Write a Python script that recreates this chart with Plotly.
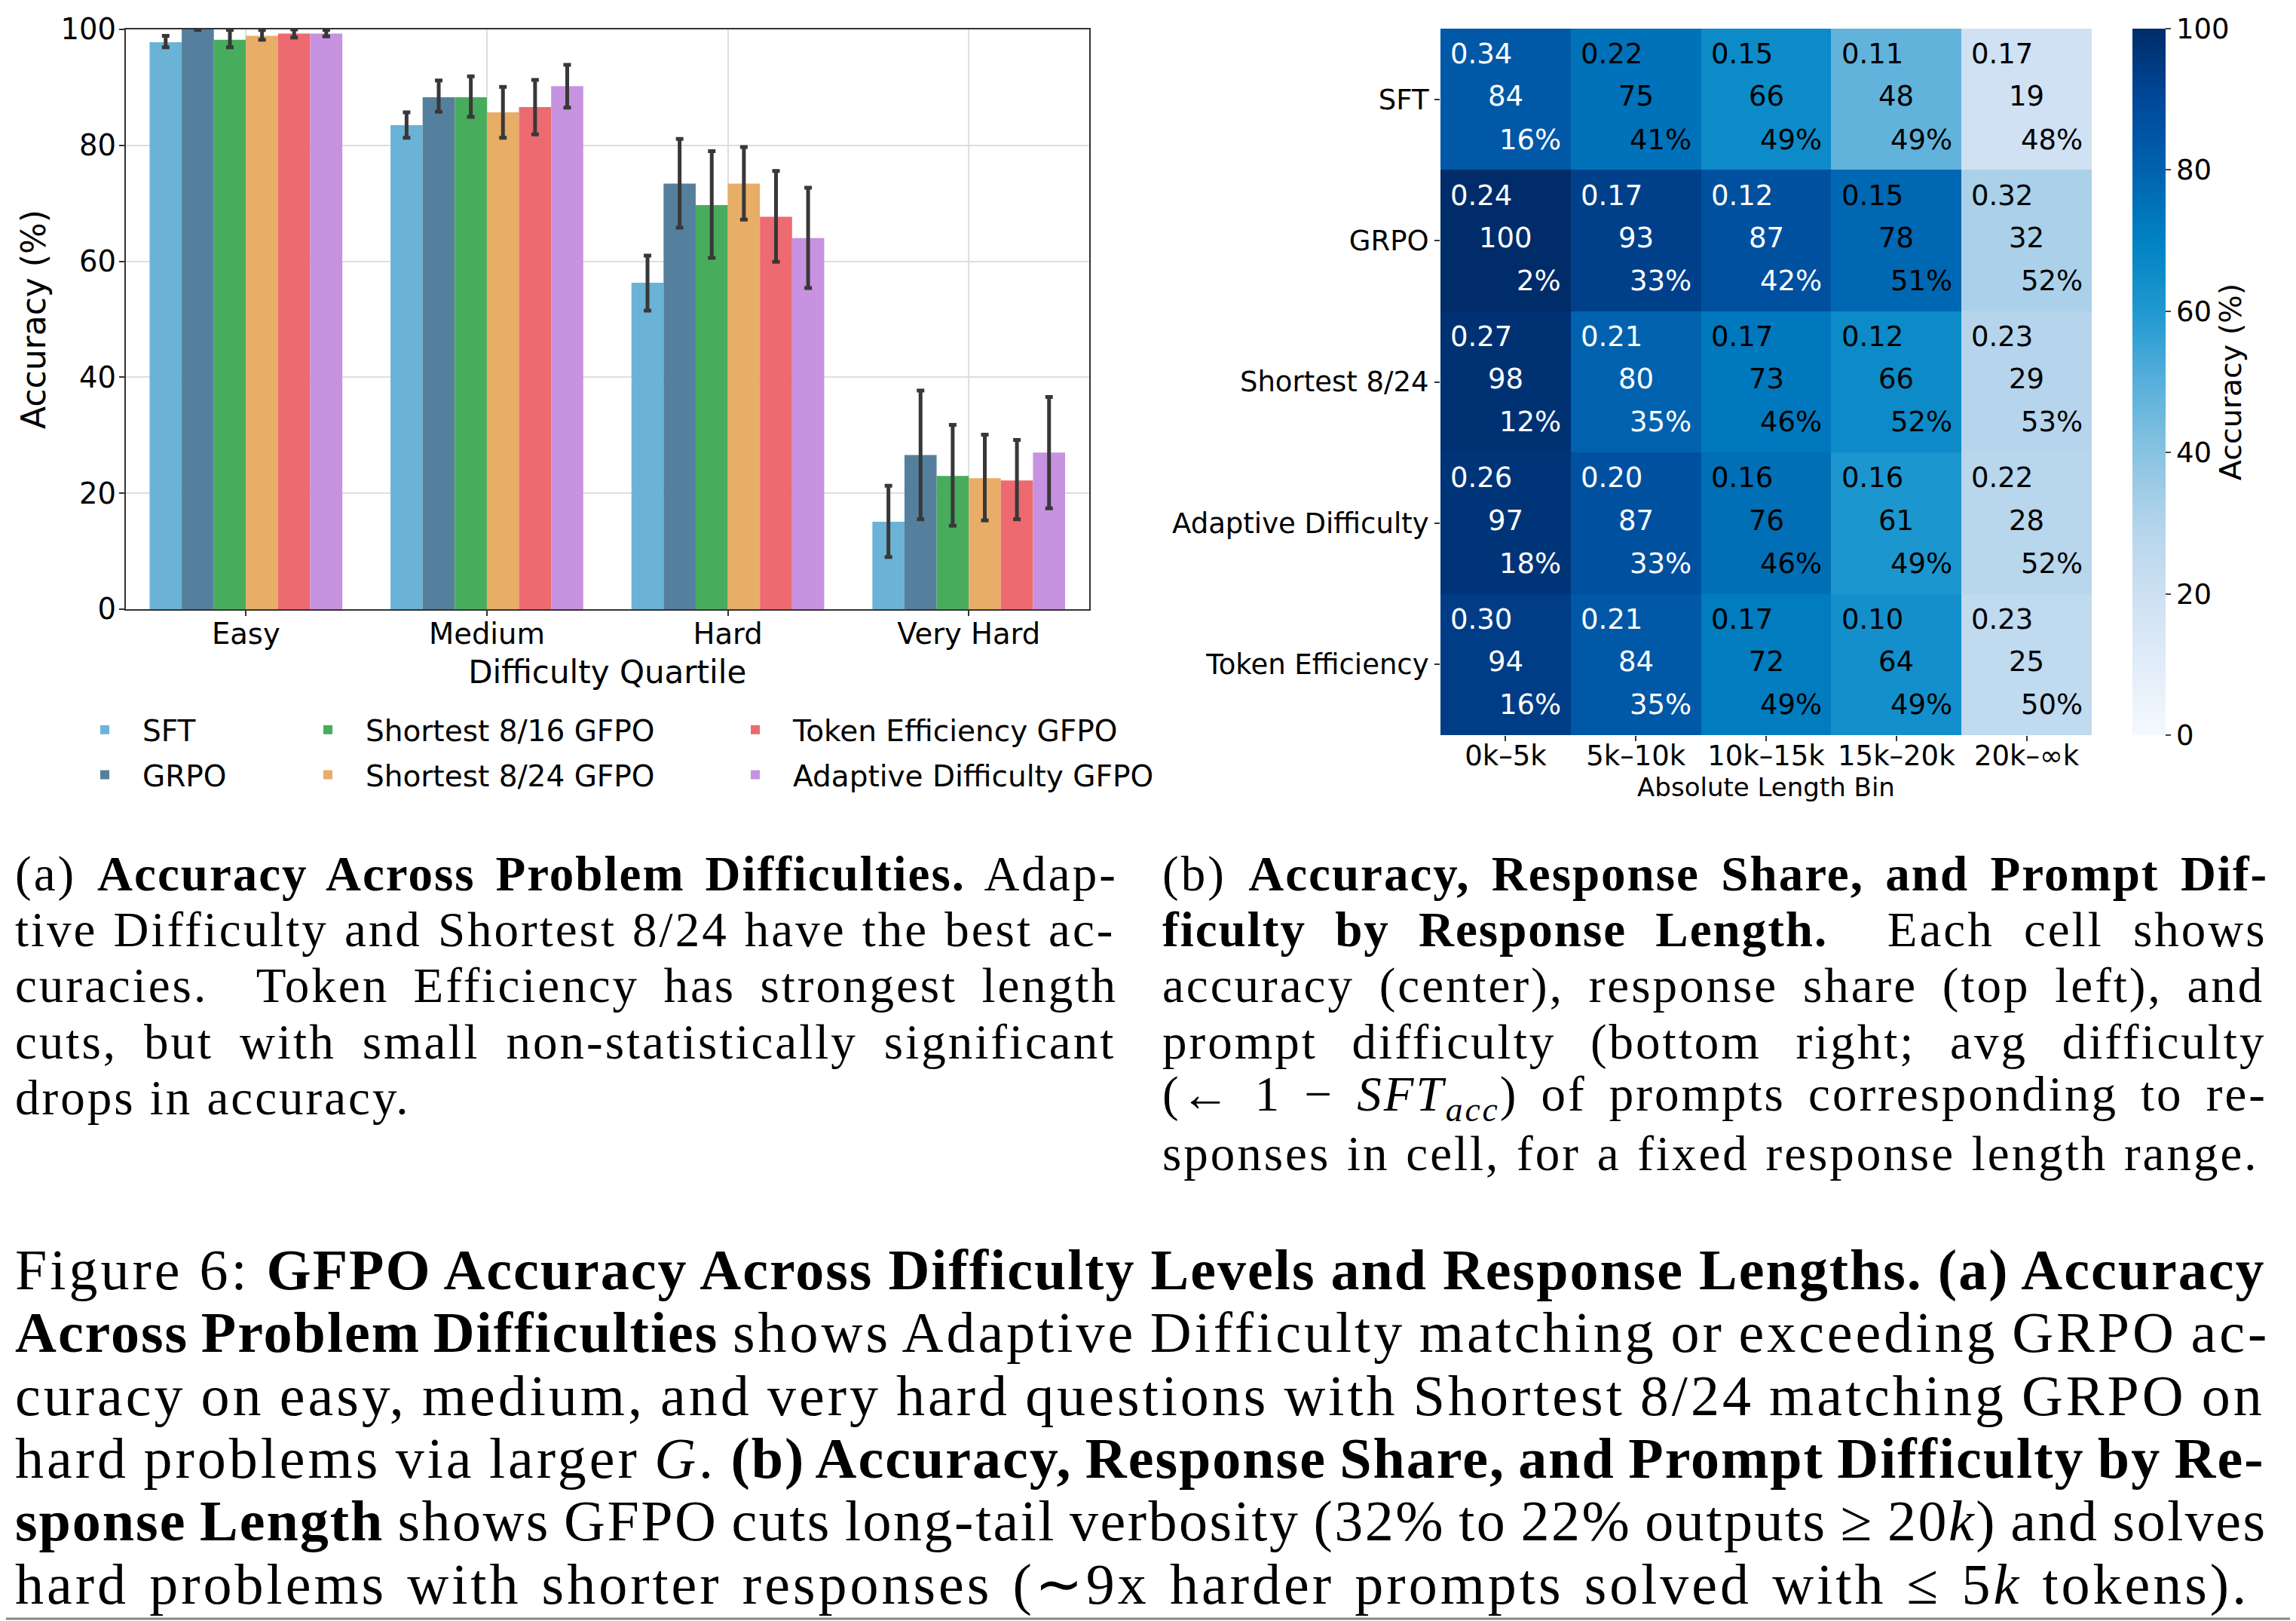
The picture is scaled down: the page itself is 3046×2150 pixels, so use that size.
import plotly.graph_objects as go

# ---------------- data: bar chart ----------------
difficulty = ["Easy", "Medium", "Hard", "Very Hard"]
methods = ["SFT", "GRPO", "Shortest 8/16 GFPO", "Shortest 8/24 GFPO",
           "Token Efficiency GFPO", "Adaptive Difficulty GFPO"]
acc_sft = [97.8, 83.5, 56.3, 15.1]
acc_grpo = [100.0, 88.3, 73.4, 26.6]
acc_s816 = [98.2, 88.3, 69.7, 23.0]
acc_s824 = [98.9, 85.7, 73.4, 22.6]
acc_tok = [99.3, 86.6, 67.7, 22.2]
acc_ada = [99.3, 90.2, 64.0, 27.0]
hi_sft = [98.9, 85.7, 61.0, 21.3]
lo_sft = [96.9, 81.3, 51.5, 9.0]
hi_grpo = [100.0, 91.2, 81.1, 37.7]
lo_grpo = [99.9, 85.8, 65.8, 15.5]
hi_s816 = [99.9, 91.9, 79.0, 31.8]
lo_s816 = [96.9, 84.9, 60.6, 14.4]
hi_s824 = [99.9, 90.1, 79.7, 30.1]
lo_s824 = [98.2, 81.3, 67.2, 15.3]
hi_tok = [100.0, 91.3, 75.6, 29.2]
lo_tok = [98.6, 81.9, 59.9, 15.5]
hi_ada = [99.9, 93.9, 72.7, 36.6]
lo_ada = [98.8, 86.5, 55.4, 17.4]

# ---------------- data: heatmap ----------------
hm_rows = ["SFT", "GRPO", "Shortest 8/24", "Adaptive Difficulty", "Token Efficiency"]
hm_cols = ["0k\u20135k", "5k\u201310k", "10k\u201315k", "15k\u201320k", "20k\u2013\u221ek"]
hm_acc_sft = [84, 75, 66, 48, 19]
hm_acc_grpo = [100, 93, 87, 78, 32]
hm_acc_s824 = [98, 80, 73, 66, 29]
hm_acc_ada = [97, 87, 76, 61, 28]
hm_acc_tok = [94, 84, 72, 64, 25]
share_sft = [0.34, 0.22, 0.15, 0.11, 0.17]
share_grpo = [0.24, 0.17, 0.12, 0.15, 0.32]
share_s824 = [0.27, 0.21, 0.17, 0.12, 0.23]
share_ada = [0.26, 0.20, 0.16, 0.16, 0.22]
share_tok = [0.30, 0.21, 0.17, 0.10, 0.23]
diff_sft = [16, 41, 49, 49, 48]
diff_grpo = [2, 33, 42, 51, 52]
diff_s824 = [12, 35, 46, 52, 53]
diff_ada = [18, 33, 46, 49, 52]
diff_tok = [16, 35, 49, 49, 50]

# ---------------- styles / page geometry ----------------
OFF = 8                      # default body margin of the html page
W, H = 3046 - OFF, 2150 - OFF
SANS = "DejaVu Sans"
SERIF = "Liberation Serif, Times New Roman, serif"
FS = 37
bar_colors = ["#6BB3D6", "#55809D", "#47AD5C", "#E8AD67", "#EC6A70", "#C792DF"]
blues = [[0.0, "#f5f9fe"], [0.1, "#e1ecf8"], [0.2, "#cde0f2"], [0.3, "#b3d4eb"],
         [0.4, "#88c3e1"], [0.5, "#58afdb"], [0.6, "#1f98d0"], [0.7, "#0082c3"],
         [0.8, "#0062ae"], [0.9, "#00489a"], [1.0, "#002c69"]]


def px_x(p):
    return (p - OFF) / W


def px_y(p):
    return 1 - (p - OFF) / H


fig = go.Figure()

means = [acc_sft, acc_grpo, acc_s816, acc_s824, acc_tok, acc_ada]
highs = [hi_sft, hi_grpo, hi_s816, hi_s824, hi_tok, hi_ada]
lows = [lo_sft, lo_grpo, lo_s816, lo_s824, lo_tok, lo_ada]
legend_of = ["legend", "legend", "legend2", "legend2", "legend3", "legend3"]
for name, m, h, l, c, lg in zip(methods, means, highs, lows, bar_colors, legend_of):
    fig.add_trace(go.Bar(
        x=difficulty, y=m, name=name, marker=dict(color=c, line=dict(width=0)),
        error_y=dict(type="data", symmetric=False,
                     array=[hh - mm for hh, mm in zip(h, m)],
                     arrayminus=[mm - ll for mm, ll in zip(m, l)],
                     color="#383838", thickness=5, width=5),
        xaxis="x", yaxis="y", legend=lg, legendgroup=name,
    ))

# heatmap
hm_acc = [hm_acc_sft, hm_acc_grpo, hm_acc_s824, hm_acc_ada, hm_acc_tok]
hm_share = [share_sft, share_grpo, share_s824, share_ada, share_tok]
hm_diff = [diff_sft, diff_grpo, diff_s824, diff_ada, diff_tok]
fig.add_trace(go.Heatmap(
    z=hm_acc, x=hm_cols, y=hm_rows, colorscale=blues, zmin=0, zmax=100,
    xaxis="x2", yaxis="y2", showscale=True, xgap=0, ygap=0,
    colorbar=dict(
        x=px_x(2829), xanchor="left", xref="paper", y=px_y(506.5), yanchor="middle",
        len=937, lenmode="pixels", thickness=44, outlinewidth=0, xpad=0, ypad=0,
        ticks="outside", ticklen=7, tickwidth=1.5, tickvals=[0, 20, 40, 60, 80, 100],
        tickfont=dict(family=SANS, size=FS, color="black"),
        title=dict(text="Accuracy (%)", side="right", font=dict(family=SANS, size=39.5, color="black")),
    ),
    hoverinfo="skip",
))

annotations = []
for r in range(len(hm_rows)):
    for c in range(len(hm_cols)):
        a = hm_acc[r][c]
        col = "white" if a >= 79 else "black"
        f = dict(family=SANS, size=FS, color=col)
        annotations.append(dict(x=c, y=r - 0.02, xref="x2", yref="y2", text=str(a), showarrow=False,
                                font=f, xanchor="center", yanchor="middle"))
        annotations.append(dict(x=c - 0.435, y=r - 0.32, xref="x2", yref="y2",
                                text=f"{hm_share[r][c]:.2f}", showarrow=False,
                                font=f, xanchor="left", yanchor="middle"))
        annotations.append(dict(x=c + 0.44, y=r + 0.285, xref="x2", yref="y2",
                                text=f"{hm_diff[r][c]}%", showarrow=False,
                                font=f, xanchor="right", yanchor="middle"))

# ---------------- captions ----------------
# each line: (segments, word-spacing px, letter-spacing override or None)
SUB_FS, FIG_FS = 65, 76
LS_SUB, LSB_SUB = 3.0, 2.0
LS_FIG, LSB_FIG = 4.0, 2.0

cap_a = [
    ([("(a) ", "r"), ("Accuracy Across Problem Difficulties.", "b"), (" Adap-", "r")], 8.7, None),
    ([("tive Difficulty and Shortest 8/24 have the best ac-", "r")], 1.9, None),
    ([("curacies.  Token Efficiency has strongest length", "r")], 13.1, None),
    ([("cuts, but with small non-statistically significant", "r")], 15.8, None),
    ([("drops in accuracy.", "r")], 0, None),
]
cap_b = [
    ([("(b) ", "r"), ("Accuracy, Response Share, and Prompt Dif-", "b")], 10.2, None),
    ([("ficulty by Response Length.", "b"), ("  Each cell shows", "r")], 20.0, None),
    ([("accuracy (center), response share (top left), and", "r")], 13.5, None),
    ([("prompt difficulty (bottom right; avg difficulty", "r")], 26.5, None),
    ([("(\u2190 1 \u2212 ", "r"), ("<i>SFT<sub>acc</sub></i>", "raw"),
      (") of prompts corresponding to re-", "r")], 10.9, None),
    ([("sponses in cell, for a fixed response length range.", "r")], 2.5, None),
]
cap_fig = [
    ([("Figure 6: ", "r"),
      ("GFPO Accuracy Across Difficulty Levels and Response Lengths. (a) Accuracy", "b")], -1.0, None),
    ([("Across Problem Difficulties", "b"),
      (" shows Adaptive Difficulty matching or exceeding GRPO ac-", "r")], -4.3, None),
    ([("curacy on easy, medium, and very hard questions with Shortest 8/24 matching GRPO on", "r")], -2.9, None),
    ([("hard problems via larger ", "r"), ("<i>G</i>", "raw"), (". ", "r"),
      ("(b) Accuracy, Response Share, and Prompt Difficulty by Re-", "b")], -3.6, None),
    ([("sponse Length", "b"),
      (" shows GFPO cuts long-tail verbosity (32% to 22% outputs \u2265 20", "r"),
      ("<i>k</i>", "raw"), (") and solves", "r")], -3.4, 2.5),
    ([("hard problems with shorter responses (\u223c9x harder prompts solved with \u2264 5", "r"),
      ("<i>k</i>", "raw"), (" tokens).", "r")], 4.2, None),
]


def build(segs, ws, ls, lsb):
    out = []
    for text, kind in segs:
        if kind == "b":
            out.append(f'<b><span style="letter-spacing:{lsb}px;word-spacing:{ws}px">{text}</span></b>')
        elif kind == "r":
            out.append(f'<span style="letter-spacing:{ls}px;word-spacing:{ws}px">{text}</span>')
        else:
            out.append(f'<span style="letter-spacing:{ls}px">{text}</span>')
    return "".join(out)


sub_y = [1159, 1233, 1307, 1382, 1456, 1530]
fig_y = [1684, 1767, 1851, 1934, 2017, 2101]
for i, (segs, ws, lso) in enumerate(cap_a):
    annotations.append(dict(x=px_x(18), y=px_y(sub_y[i]), xref="paper", yref="paper",
                            text=build(segs, ws, lso or LS_SUB, LSB_SUB),
                            showarrow=False, xanchor="left", yanchor="middle",
                            font=dict(family=SERIF, size=SUB_FS, color="black")))
for i, (segs, ws, lso) in enumerate(cap_b):
    annotations.append(dict(x=px_x(1540), y=px_y(sub_y[i]), xref="paper", yref="paper",
                            text=build(segs, ws, lso or LS_SUB, LSB_SUB),
                            showarrow=False, xanchor="left", yanchor="middle",
                            font=dict(family=SERIF, size=SUB_FS, color="black")))
for i, (segs, ws, lso) in enumerate(cap_fig):
    annotations.append(dict(x=px_x(18), y=px_y(fig_y[i]), xref="paper", yref="paper",
                            text=build(segs, ws, lso or LS_FIG, LSB_FIG),
                            showarrow=False, xanchor="left", yanchor="middle",
                            font=dict(family=SERIF, size=FIG_FS, color="black")))

axis_font = dict(family=SANS, size=FS, color="black")
bar_tick_font = dict(family=SANS, size=38.5, color="black")
leg_common = dict(orientation="v", font=dict(family=SANS, size=39, color="black"),
                  bgcolor="rgba(0,0,0,0)", borderwidth=0, itemwidth=90,
                  yanchor="top", y=px_y(936), xanchor="left", tracegroupgap=6,
                  itemclick=False, itemdoubleclick=False)

fig.update_layout(
    width=W, height=H, margin=dict(l=0, r=0, t=0, b=0, autoexpand=False),
    paper_bgcolor="white", plot_bgcolor="white",
    barmode="group", bargap=0.2, bargroupgap=0,
    font=dict(family=SANS, size=FS, color="black"),
    xaxis=dict(domain=[px_x(166.5), px_x(1445)], anchor="y", showline=True, mirror=True,
               linecolor="#333333", linewidth=1.5, showgrid=True, gridcolor="#dedede",
               gridwidth=1.5, ticks="outside", ticklen=7, tickwidth=1.5, tickcolor="#333333",
               tickfont=bar_tick_font, automargin=False, ticklabelstandoff=-9,
               title=dict(text="Difficulty Quartile", font=dict(family=SANS, size=42, color="black"),
                          standoff=15)),
    yaxis=dict(domain=[px_y(808), px_y(39)], anchor="x", range=[0, 100], showline=True,
               mirror=True, linecolor="#333333", linewidth=1.5, showgrid=True,
               gridcolor="#dedede", gridwidth=1.5, ticks="outside", ticklen=7, tickwidth=1.5,
               tickcolor="#333333", tickvals=[0, 20, 40, 60, 80, 100], tickfont=bar_tick_font,
               zeroline=False, automargin=False, ticklabelstandoff=-4,
               title=dict(text="Accuracy (%)", font=dict(family=SANS, size=44, color="black"),
                          standoff=6)),
    xaxis2=dict(domain=[px_x(1911), px_x(2775)], anchor="y2", showline=False, showgrid=False,
                zeroline=False, ticks="outside", ticklen=7, tickwidth=1.5, tickcolor="#333333",
                tickfont=axis_font, automargin=False, ticklabelstandoff=-12,
                title=dict(text="Absolute Length Bin", font=dict(family=SANS, size=34, color="black"),
                           standoff=8)),
    yaxis2=dict(domain=[px_y(975), px_y(38)], anchor="x2", showline=False, showgrid=False,
                zeroline=False, autorange="reversed", ticks="outside", ticklen=7,
                tickwidth=1.5, tickcolor="#333333", tickfont=axis_font, automargin=False),
    legend=dict(leg_common, x=px_x(89)),
    legend2=dict(leg_common, x=px_x(385)),
    legend3=dict(leg_common, x=px_x(952)),
    annotations=annotations,
    shapes=[
        dict(type="line", xref="paper", yref="paper", x0=px_x(3045), x1=px_x(3045), y0=0, y1=1,
             line=dict(color="#888888", width=3)),
        dict(type="line", xref="paper", yref="paper", x0=0, x1=1, y0=px_y(2147), y1=px_y(2147),
             line=dict(color="#888888", width=3)),
    ],
)

fig.write_html("out.html")
